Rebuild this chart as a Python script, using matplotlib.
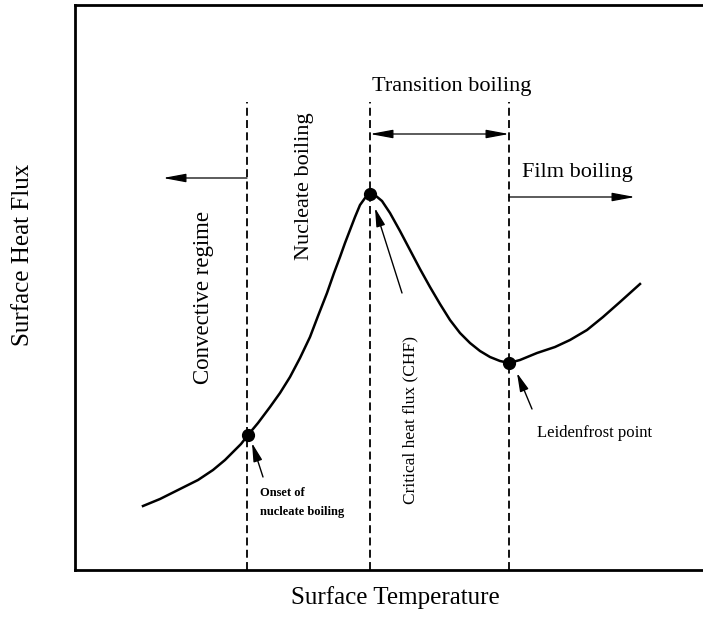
import matplotlib
matplotlib.use("Agg")
import matplotlib.pyplot as plt

plt.rcParams['font.family'] = ['Liberation Serif', 'DejaVu Serif']

# Boiling curve: surface temperature vs. surface heat flux (arbitrary units)
temperature = [68, 85, 105, 123, 138, 150, 158, 166, 173, 183, 195, 205, 215,
               225, 235, 243, 252, 259, 265, 270, 275, 280, 285, 290, 295,
               301, 307, 315, 325, 335, 345, 355, 365, 375, 385, 395, 405,
               415, 425, 434, 445, 462, 480, 495, 512, 528, 545, 565]
heat_flux = [64, 71, 81, 90, 100, 110, 118, 126, 135, 147, 163, 177, 193,
             212, 233, 254, 277, 297, 313, 327, 340, 353, 365, 372, 376,
             374, 369, 357, 339, 320, 301, 283, 266, 250, 237, 227, 219,
             213, 209, 207, 210, 217, 223, 230, 240, 253, 268, 286]

# Characteristic points: onset of nucleate boiling, CHF, Leidenfrost point
point_t = [173, 295, 434]
point_q = [135, 376, 207]

# Regime boundaries
boundary_t = [172, 295, 434]
boundary_top = 468

W, H = 703, 632
fig = plt.figure(figsize=(W / 100, H / 100), dpi=100)
ax = fig.add_axes([75 / W, 62 / H, 628 / W, 565 / H])
ax.set_xlim(0, 628)
ax.set_ylim(0, 565)
ax.set_xticks([])
ax.set_yticks([])
for side in ('left', 'bottom', 'top'):
    ax.spines[side].set_linewidth(2.0)
ax.spines['right'].set_visible(False)

# Dashed regime boundaries
for t in boundary_t:
    ax.plot([t, t], [0, boundary_top], color='black', lw=1.3,
            dashes=(4.4, 2.4), solid_capstyle='butt')

# Boiling curve and its marked points
ax.plot(temperature, heat_flux, color='black', lw=1.8, solid_joinstyle='round')
ax.plot(point_t, point_q, 'o', color='black', markersize=8.5)

big_arrow = dict(arrowstyle='-|>,head_length=0.7,head_width=0.13',
                 mutation_scale=20, color='black', lw=0.9, shrinkA=0, shrinkB=0)
small_arrow = dict(arrowstyle='-|>,head_length=0.7,head_width=0.17',
                   mutation_scale=16, color='black', lw=1.0, shrinkA=0, shrinkB=0)

# Convective regime arrow (to the left)
ax.annotate('', xy=(88, 392), xytext=(172, 392), arrowprops=big_arrow)
# Transition boiling double arrow
ax.annotate('', xy=(434, 436), xytext=(295, 436),
            arrowprops=dict(arrowstyle='<|-|>,head_length=0.7,head_width=0.13',
                            mutation_scale=20, color='black', lw=0.9,
                            shrinkA=0, shrinkB=0))
# Film boiling arrow (to the right)
ax.annotate('', xy=(560, 373), xytext=(434, 373), arrowprops=big_arrow)

# Pointers to the characteristic points
ax.annotate('', xy=(177, 127), xytext=(188, 93), arrowprops=small_arrow)
ax.annotate('', xy=(300, 362), xytext=(327, 277), arrowprops=small_arrow)
ax.annotate('', xy=(442, 197), xytext=(457, 161), arrowprops=small_arrow)

# Regime labels
ax.text(377, 483, 'Transition boiling', fontsize=16, ha='center', va='center')
ax.text(502, 398, 'Film boiling', fontsize=16, ha='center', va='center')
ax.text(128, 272, 'Convective regime', fontsize=16.5, ha='center', va='center',
        rotation=90)
ax.text(230, 384, 'Nucleate boiling', fontsize=16, ha='center', va='center',
        rotation=90)

# Point labels
ax.text(335, 150, 'Critical heat flux (CHF)', fontsize=12.5, ha='center',
        va='center', rotation=90)
ax.text(185, 77, 'Onset of', fontsize=9, fontweight='bold', ha='left', va='center')
ax.text(185, 58, 'nucleate boiling', fontsize=9, fontweight='bold', ha='left',
        va='center')
ax.text(462, 137, 'Leidenfrost point', fontsize=12, ha='left', va='center')

# Axis titles
fig.text(395 / W, 1 - 598 / H, 'Surface Temperature', fontsize=18,
         ha='center', va='center')
fig.text(23 / W, 1 - 255 / H, 'Surface Heat Flux', fontsize=18,
         ha='center', va='center', rotation=90)

fig.savefig('out.png', dpi=100, facecolor='white')
